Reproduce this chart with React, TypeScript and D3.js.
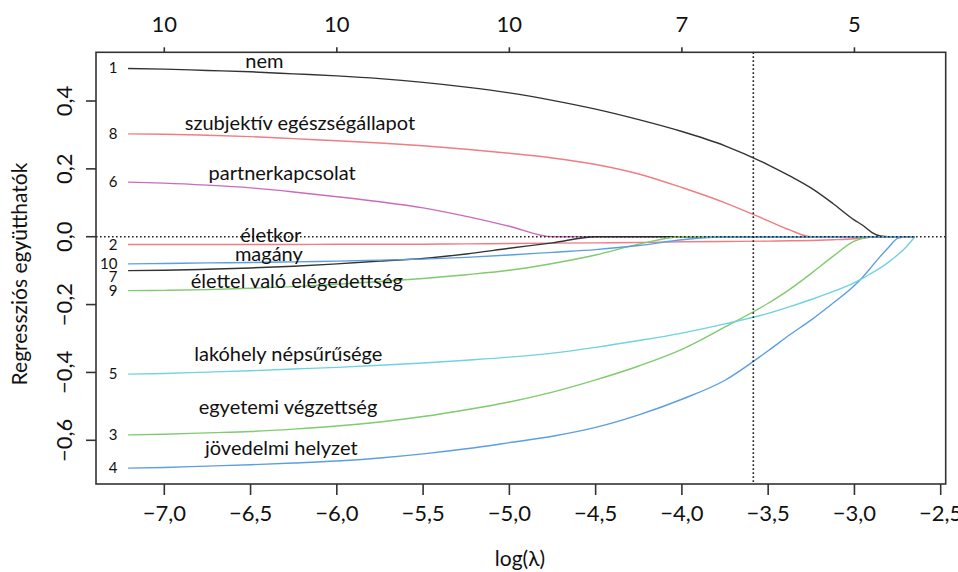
import React from 'react';
import * as d3 from 'd3';

// log(lambda) grid shared by all coefficient paths
const logLambda = [-7.21, -7.0, -6.75, -6.5, -6.25, -6.0, -5.75, -5.5, -5.25, -5.0, -4.75, -4.5, -4.25, -4.0, -3.75, -3.5, -3.375, -3.25, -3.125, -3.0, -2.95, -2.9, -2.85, -2.8, -2.75, -2.7, -2.65];

// coefficient paths (variables 1..10)
const coef1 = [0.496, 0.494, 0.490, 0.486, 0.480, 0.474, 0.466, 0.455, 0.441, 0.424, 0.402, 0.376, 0.345, 0.310, 0.268, 0.212, 0.179, 0.143, 0.098, 0.049, 0.033, 0.013, 0.002, 0, 0, 0, 0];
const coef2 = [-0.023, -0.023, -0.023, -0.023, -0.023, -0.022, -0.022, -0.022, -0.021, -0.020, -0.019, -0.018, -0.017, -0.015, -0.014, -0.013, -0.012, -0.011, -0.009, -0.006, -0.004, -0.001, 0, 0, 0, 0, 0];
const coef3 = [-0.584, -0.582, -0.578, -0.574, -0.567, -0.558, -0.546, -0.530, -0.510, -0.487, -0.458, -0.422, -0.381, -0.332, -0.266, -0.196, -0.155, -0.108, -0.058, -0.013, -0.005, -0.001, 0, 0, 0, 0, 0];
const coef4 = [-0.682, -0.680, -0.676, -0.672, -0.667, -0.661, -0.652, -0.640, -0.625, -0.607, -0.588, -0.562, -0.525, -0.479, -0.423, -0.336, -0.289, -0.245, -0.196, -0.144, -0.118, -0.088, -0.058, -0.030, -0.005, 0, 0];
const coef5 = [-0.405, -0.403, -0.399, -0.395, -0.390, -0.385, -0.379, -0.372, -0.364, -0.355, -0.343, -0.326, -0.306, -0.284, -0.257, -0.226, -0.206, -0.185, -0.162, -0.135, -0.122, -0.107, -0.092, -0.074, -0.054, -0.030, 0];
const coef6 = [0.161, 0.158, 0.152, 0.144, 0.132, 0.118, 0.103, 0.085, 0.060, 0.031, 0, 0, 0, 0, 0, 0, 0, 0, 0, 0, 0, 0, 0, 0, 0, 0, 0];
const coef7 = [-0.100, -0.099, -0.096, -0.092, -0.087, -0.080, -0.072, -0.064, -0.051, -0.034, -0.018, 0, 0, 0, 0, 0, 0, 0, 0, 0, 0, 0, 0, 0, 0, 0, 0];
const coef8 = [0.303, 0.302, 0.299, 0.295, 0.289, 0.283, 0.276, 0.268, 0.258, 0.246, 0.232, 0.213, 0.185, 0.145, 0.100, 0.047, 0.020, 0, 0, 0, 0, 0, 0, 0, 0, 0, 0];
const coef9 = [-0.159, -0.158, -0.156, -0.152, -0.147, -0.140, -0.132, -0.123, -0.112, -0.099, -0.079, -0.054, -0.022, 0, 0, 0, 0, 0, 0, 0, 0, 0, 0, 0, 0, 0, 0];
const coef10 = [-0.080, -0.079, -0.077, -0.076, -0.074, -0.072, -0.069, -0.066, -0.061, -0.054, -0.046, -0.038, -0.026, -0.009, 0, 0, 0, 0, 0, 0, 0, 0, 0, 0, 0, 0, 0];

const seriesList = [coef1, coef2, coef3, coef4, coef5, coef6, coef7, coef8, coef9, coef10];
const seriesIds = ['1', '2', '3', '4', '5', '6', '7', '8', '9', '10'];

// variable names written next to the paths, with their anchor (log lambda, coefficient)
const labelNames = ['nem', 'szubjektív egészségállapot', 'partnerkapcsolat', 'életkor', 'magány', 'élettel való elégedettség', 'lakóhely népsűrűsége', 'egyetemi végzettség', 'jövedelmi helyzet'];
const labelX = [-6.42, -6.214, -6.317, -6.383, -6.394, -6.232, -6.281, -6.283, -6.322];
const labelY = [0.497, 0.314, 0.168, -0.016, -0.071, -0.151, -0.365, -0.522, -0.643];

const xTicks = [-7.0, -6.5, -6.0, -5.5, -5.0, -4.5, -4.0, -3.5, -3.0, -2.5];
const yTicks = [-0.6, -0.4, -0.2, 0.0, 0.2, 0.4];
const topTickPos = [-7, -6, -5, -4, -3];
const topTickLabels = ['10', '10', '10', '7', '5'];
const lambdaMin = -3.586;

const palette = ['#333333', '#F07C84', '#7FCB6E', '#5B9FE3', '#6FD3E0', '#CB6BC0'];

const fmt = (v: number) => {
  const s = Math.abs(v).toFixed(1).replace('.', ',');
  return v < -1e-9 ? '\u2212' + s : s;
};

export default function App() {
  const W = 958, H = 572;
  const left = 96, right = 945.7, top = 52.3, bottom = 484;
  const x = d3.scaleLinear().domain([-7, -2.5]).range([164.3, 940.7]);
  const y = d3.scaleLinear().domain([-0.6, 0.4]).range([440.3, 101]);
  const line = d3.line<number>()
    .x((_, i) => x(logLambda[i]))
    .y((d) => y(d))
    .curve(d3.curveMonotoneX);
  const font = 'Lato, "Open Sans", sans-serif';
  const nudge: Record<string, number> = { '7': 6 };

  return (
    <svg width={W} height={H} style={{ position: 'absolute', left: 0, top: 0, background: '#fff' }} fontFamily={font}>
      <rect x={0} y={0} width={W} height={H} fill="#fff" />
      {/* coefficient paths */}
      {seriesList.map((s, i) => (
        <path key={i} d={line(s) || ''} fill="none" stroke={palette[i % 6]} strokeWidth={1.4} />
      ))}
      {/* reference lines */}
      <line x1={left} x2={right} y1={y(0)} y2={y(0)} stroke="#222" strokeWidth={1.6} strokeDasharray="1.6,2.4" />
      <line x1={x(lambdaMin)} x2={x(lambdaMin)} y1={top} y2={bottom} stroke="#222" strokeWidth={1.6} strokeDasharray="1.6,2.4" />
      {/* box */}
      <rect x={left} y={top} width={right - left} height={bottom - top} fill="none" stroke="#333" strokeWidth={1.6} />
      {/* bottom axis */}
      {xTicks.map((t) => (
        <g key={t}>
          <line x1={x(t)} x2={x(t)} y1={bottom} y2={bottom + 11} stroke="#333" strokeWidth={1.6} />
          <text x={x(t)} y={520.5} textAnchor="middle" fontSize={22} fill="#111">{fmt(t)}</text>
        </g>
      ))}
      {/* top axis */}
      {topTickPos.map((t, i) => (
        <g key={t}>
          <line x1={x(t)} x2={x(t)} y1={top} y2={top - 5} stroke="#333" strokeWidth={1.6} />
          <text x={x(t)} y={31.5} textAnchor="middle" fontSize={22} fill="#111">{topTickLabels[i]}</text>
        </g>
      ))}
      {/* left axis */}
      {yTicks.map((t) => (
        <g key={t}>
          <line x1={left - 10} x2={left} y1={y(t)} y2={y(t)} stroke="#333" strokeWidth={1.6} />
          <text transform={`translate(71.5,${y(t)}) rotate(-90)`} textAnchor="middle" fontSize={22} fill="#111">{fmt(t)}</text>
        </g>
      ))}
      <text transform={`translate(26.5,274) rotate(-90)`} textAnchor="middle" fontSize={21} fill="#111">Regressziós együtthatók</text>
      <text x={520} y={565.5} textAnchor="middle" fontSize={21} fill="#111">log(λ)</text>
      {/* variable numbers at path starts */}
      {seriesList.map((s, i) => (
        <text key={i} x={117.5} y={y(s[0]) + 5 + (nudge[seriesIds[i]] || 0)} textAnchor="end" fontSize={15} fill="#111">{seriesIds[i]}</text>
      ))}
      {/* variable names */}
      {labelNames.map((n, i) => (
        <text key={n} x={x(labelX[i])} y={y(labelY[i])} textAnchor="middle" fontSize={20} fill="#111">{n}</text>
      ))}
    </svg>
  );
}
